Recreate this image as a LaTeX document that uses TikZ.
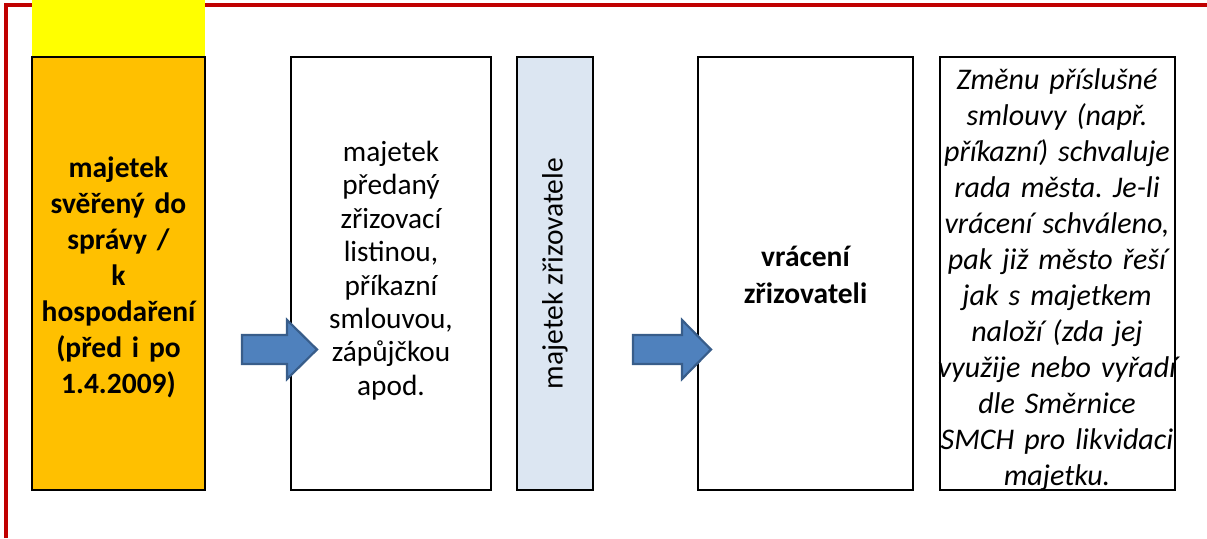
\documentclass[tikz,border=0pt]{standalone}
\usepackage{fontspec}
\setmainfont{Carlito}
\definecolor{frame}{HTML}{C00000}
\definecolor{yel}{HTML}{FFFF00}
\definecolor{orng}{HTML}{FFC000}
\definecolor{lblue}{HTML}{DCE6F2}
\definecolor{arrfill}{HTML}{4F81BD}
\definecolor{arrdraw}{HTML}{385D8A}
\tikzset{
  box/.style={draw=black, line width=2pt, inner sep=0pt, align=center,
    minimum height=433pt},
  txt/.style={inner sep=0pt, align=center},
  bigarrow/.style={fill=arrfill, draw=arrdraw, line width=2.2pt, line join=miter},
}
\begin{document}
\frenchspacing
\begin{tikzpicture}[x=1pt,y=-1pt]
\useasboundingbox (0,0) rectangle (1207,538);
% red frame
\draw[frame, line width=4pt] (5.5,538) -- (5.5,4.5) -- (1207,4.5);
% yellow strip
\fill[yel] (32,0) rectangle (205,57);
% boxes
\node[box, fill=orng, minimum width=173pt] (b1) at (118.5,273.5) {};
\node[txt, text width=170pt, font=\fontsize{29.5}{36}\selectfont\bfseries] (b1t) at (118.5,277)
  {majetek\\svěřený do\\správy /\\k\\hospodaření\\(před i po\\1.4.2009)};
\node[box, fill=white, minimum width=200pt] (b2) at (391,273.5) {};
\node[txt, text width=196pt, font=\fontsize{29.3}{33.4}\selectfont] (b2t) at (391,270.5)
  {majetek\\předaný\\zřizovací\\listinou,\\příkazní\\smlouvou,\\zápůjčkou\\apod.};
\node[box, fill=lblue, minimum width=76pt] (b3) at (555,273.5) {};
\node[txt, rotate=90, font=\fontsize{29.5}{33.4}\selectfont] (b3t) at (b3.center) {majetek zřizovatele};
\node[box, fill=white, minimum width=215pt] (b4) at (805.5,273.5) {};
\node[txt, text width=210pt, font=\fontsize{29.5}{36.5}\selectfont\bfseries] (b4t) at (805.5,275)
  {vrácení\\zřizovateli};
\node[box, fill=white, minimum width=235pt] (b5) at (1057,273.5) {};
\node[txt, text width=260pt, font=\fontsize{30}{36}\selectfont\itshape] (b5t) at (1057,279.5)
  {Změnu příslušné\\smlouvy (např.\\příkazní) schvaluje\\rada města. Je-li\\vrácení schváleno,\\pak již město řeší\\jak s majetkem\\naloží (zda jej\\využije nebo vyřadí\\dle Směrnice\\SMCH pro likvidaci\\majetku.};
% arrows
\draw[bigarrow] (242,335) -- (287,335) -- (287,320) -- (317,349.5) -- (287,379) -- (287,364) -- (242,364) -- cycle;
\draw[bigarrow] (633,335) -- (682,335) -- (682,320) -- (711,349.5) -- (682,379) -- (682,364) -- (633,364) -- cycle;
\end{tikzpicture}
\end{document}
